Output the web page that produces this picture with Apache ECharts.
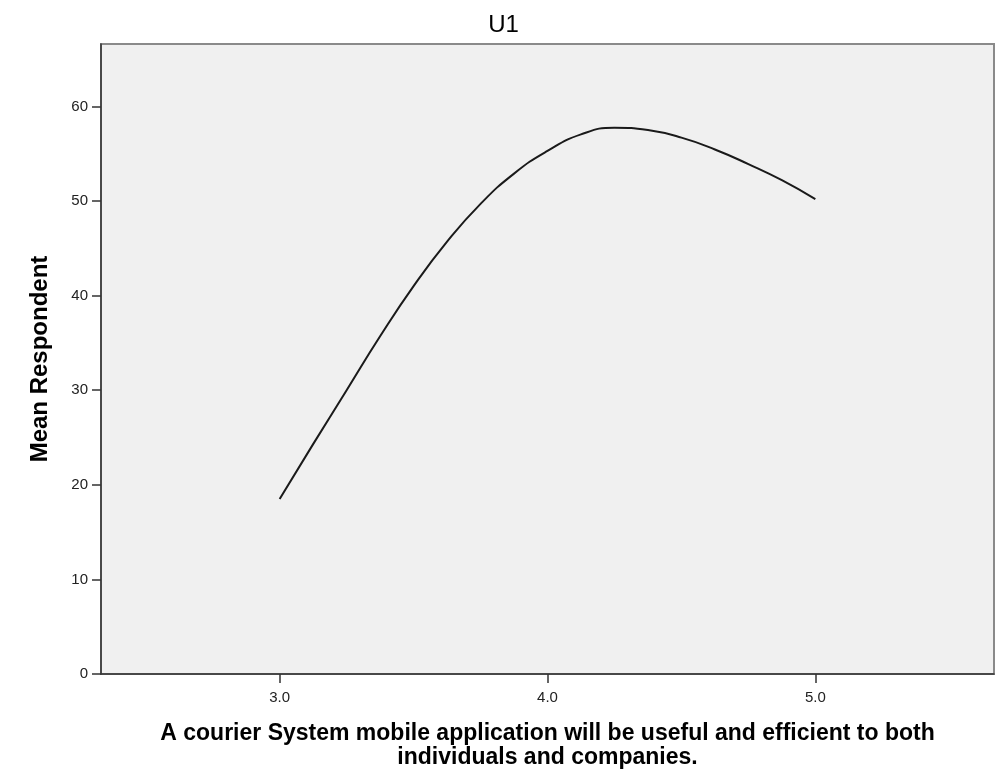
<!DOCTYPE html>
<html>
<head>
<meta charset="utf-8">
<script src="https://cdn.jsdelivr.net/npm/echarts@6/dist/echarts.min.js"></script>
<style>
  html, body { margin: 0; padding: 0; background: #ffffff; }
  #chart { width: 1007px; height: 780px; }
</style>
</head>
<body>
<div id="chart"></div>
<script>
// Values
const xValues = [3.0, 3.125, 3.25, 3.375, 3.5, 3.625, 3.75, 3.875, 4.0, 4.125, 4.25, 4.375, 4.5, 4.625, 4.75, 4.875, 5.0];
const meanValues = [18.5, 24.3, 30.0, 35.7, 41.0, 45.7, 49.7, 52.9, 55.3, 57.05, 57.75, 57.5, 56.7, 55.45, 53.9, 52.2, 50.2];
const xTicks = [3, 4, 5];
const yTicks = [0, 10, 20, 30, 40, 50, 60];
const chartTitle = 'U1';
const xAxisName = 'A courier System mobile application will be useful and efficient to both\nindividuals and companies.';
const yAxisName = 'Mean Respondent';

const points = xValues.map((x, i) => [x, meanValues[i]]);
const font = "'Liberation Sans', Arial, sans-serif";

const chart = echarts.init(document.getElementById('chart'));
chart.setOption({
  animation: false,
  backgroundColor: '#ffffff',
  title: {
    text: chartTitle,
    left: 'center',
    top: 8,
    textStyle: { fontFamily: font, fontSize: 24, fontWeight: 'normal', color: '#000' }
  },
  grid: {
    left: 101, right: 13, top: 44, bottom: 106,
    show: true,
    backgroundColor: '#f0f0f0',
    borderColor: '#8a8a8a',
    borderWidth: 2
  },
  xAxis: {
    type: 'value',
    min: 2.333, max: 5.667,
    name: xAxisName,
    nameLocation: 'middle',
    nameGap: 48,
    nameTextStyle: { fontFamily: font, fontSize: 23, fontWeight: 'bold', color: '#000', lineHeight: 24, align: 'center' },
    axisLine: { show: true, lineStyle: { color: '#333', width: 1.5 } },
    axisTick: { show: true, length: 9, lineStyle: { color: '#333', width: 1.5 }, customValues: xTicks },
    axisLabel: {
      fontFamily: font, fontSize: 15, color: '#222', margin: 16,
      customValues: xTicks,
      formatter: v => v.toFixed(1)
    },
    splitLine: { show: false }
  },
  yAxis: {
    type: 'value',
    min: 0, max: 66.6,
    name: yAxisName,
    nameLocation: 'middle',
    nameRotate: 90,
    nameGap: 49,
    nameTextStyle: { fontFamily: font, fontSize: 24, fontWeight: 'bold', color: '#000' },
    axisLine: { show: true, lineStyle: { color: '#333', width: 1.5 } },
    axisTick: { show: true, length: 9, lineStyle: { color: '#333', width: 1.5 }, customValues: yTicks },
    axisLabel: {
      fontFamily: font, fontSize: 15, color: '#222', margin: 13,
      customValues: yTicks
    },
    splitLine: { show: false }
  },
  series: [{
    type: 'line',
    data: points,
    smooth: 0.5,
    showSymbol: false,
    silent: true,
    lineStyle: { color: '#1a1a1a', width: 2 }
  }]
});
</script>
</body>
</html>
